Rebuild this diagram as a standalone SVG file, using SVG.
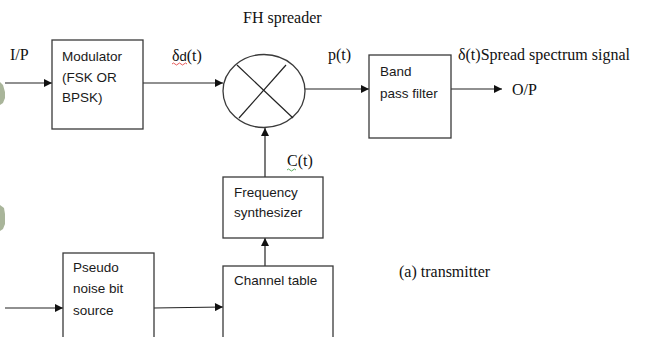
<svg xmlns="http://www.w3.org/2000/svg" width="645" height="337" viewBox="0 0 645 337">
<defs>
<style>
.box{fill:#fff;stroke:#3a3a3a;stroke-width:1.3}
.ln{stroke:#222;stroke-width:1.2;fill:none}
.sans{font-family:"Liberation Sans",Arial,sans-serif;font-size:13.5px;fill:#1a1a1a}
.serif{font-family:"Liberation Serif","Times New Roman",serif;font-size:16px;fill:#111}
.wm{fill:#a9b59a}
</style>
<marker id="ah" viewBox="0 0 10 10" refX="10" refY="5" markerWidth="9" markerHeight="8" markerUnits="userSpaceOnUse" orient="auto">
<path d="M0,0 L10,5 L0,10 Z" fill="#111"/>
</marker>
</defs>
<rect width="645" height="337" fill="#fff"/>
<polygon class="wm" points="0,82 3,85 5,92 5,98 3,103 0,105"/>
<polygon class="wm" points="0,205 4,208 5,214 5,224 3,229 0,231"/>

<g id="connectors">
<line class="ln" x1="5" y1="83" x2="52" y2="83" marker-end="url(#ah)"/>
<line class="ln" x1="143" y1="83" x2="223" y2="83" marker-end="url(#ah)"/>
<line class="ln" x1="305" y1="89" x2="369" y2="89" marker-end="url(#ah)"/>
<line class="ln" x1="451" y1="89" x2="502" y2="89" marker-end="url(#ah)"/>
<line class="ln" x1="265" y1="177" x2="265" y2="128" marker-end="url(#ah)"/>
<line class="ln" x1="265" y1="266" x2="265" y2="238" marker-end="url(#ah)"/>
<line class="ln" x1="5" y1="308" x2="63" y2="308" marker-end="url(#ah)"/>
<line class="ln" x1="154" y1="308" x2="223" y2="307" marker-end="url(#ah)"/>
</g>

<g id="modulator">
<rect class="box" x="52" y="40" width="91" height="89"/>
<text class="sans" x="62" y="61">Modulator</text>
<text class="sans" x="62" y="82">(FSK OR</text>
<text class="sans" x="62" y="102">BPSK)</text>
</g>

<g id="mixer">
<ellipse cx="264" cy="91" rx="41" ry="36.5" fill="#fff" stroke="#3a3a3a" stroke-width="1.3"/>
<line class="ln" x1="237" y1="65" x2="293" y2="118" stroke="#444"/>
<line class="ln" x1="286" y1="65" x2="239" y2="118" stroke="#444"/>
</g>

<g id="bpf">
<rect class="box" x="369" y="55" width="82" height="83"/>
<text class="sans" x="380" y="76">Band</text>
<text class="sans" x="380" y="98">pass filter</text>
</g>

<g id="freqsynth">
<rect class="box" x="223" y="177" width="100" height="61"/>
<text class="sans" x="234" y="197">Frequency</text>
<text class="sans" x="234" y="217">synthesizer</text>
</g>

<g id="channeltable">
<rect class="box" x="223" y="266" width="110" height="80"/>
<text class="sans" x="234" y="285">Channel table</text>
</g>

<g id="pseudo">
<rect class="box" x="63" y="253" width="91" height="93"/>
<text class="sans" x="73" y="272">Pseudo</text>
<text class="sans" x="73" y="293">noise bit</text>
<text class="sans" x="73" y="315">source</text>
</g>

<g id="labels">
<text class="serif" x="243" y="23">FH spreader</text>
<text class="serif" x="10" y="60">I/P</text>
<text class="serif" x="172" y="61">δ<tspan font-family="Liberation Sans, Arial, sans-serif" font-size="13px">d</tspan>(t)</text>
<path d="M172,64 q1.5,-2 3,0 t3,0 t3,0 t3,0 t3,0" stroke="#e03030" stroke-width="0.8" fill="none"/>
<text class="serif" x="328" y="60">p(t)</text>
<text class="serif" x="458" y="60">δ(t)Spread spectrum  signal</text>
<text class="serif" x="512" y="95">O/P</text>
<text class="serif" x="287" y="166">C(t)</text>
<path d="M287,170 q1.5,-2 3,0 t3,0 t3,0" stroke="#3a9a3a" stroke-width="0.8" fill="none"/>
<text class="serif" x="399" y="277">(a)  transmitter</text>
</g>
</svg>
